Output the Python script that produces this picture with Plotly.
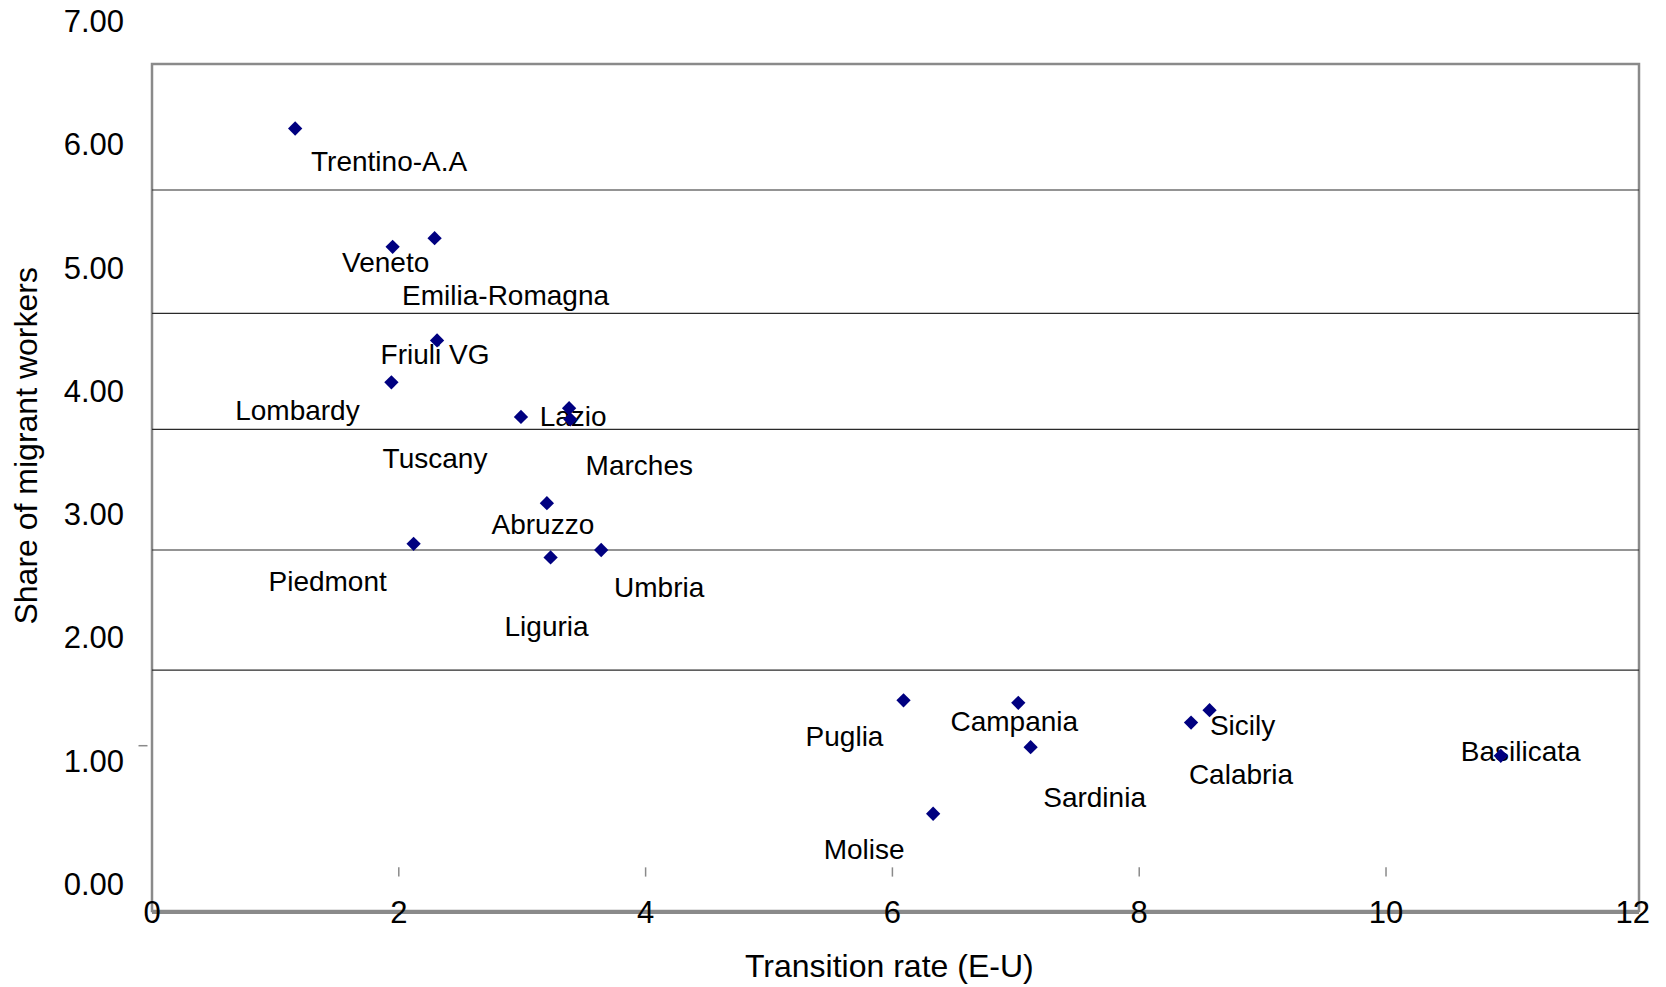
import plotly.graph_objects as go

# ---- data ----
regions = ["Trentino-A.A", "Veneto", "Emilia-Romagna", "Friuli VG", "Lombardy",
           "Tuscany", "Lazio", "Marches", "Abruzzo", "Piedmont", "Liguria", "Umbria",
           "Puglia", "Campania", "Sardinia", "Molise", "Calabria", "Sicily", "Basilicata"]
transition_rate = [1.16, 1.95, 2.29, 2.31, 1.94,
                   2.99, 3.38, 3.39, 3.20, 2.12, 3.23, 3.64,
                   6.09, 7.02, 7.12, 6.33, 8.42, 8.57, 10.93]
migrant_share = [6.13, 5.17, 5.24, 4.41, 4.07,
                 3.79, 3.86, 3.77, 3.09, 2.76, 2.65, 2.71,
                 1.49, 1.47, 1.11, 0.57, 1.31, 1.41, 1.04]
y_ticks = [0, 1, 2, 3, 4, 5, 6, 7]
x_ticks = [0, 2, 4, 6, 8, 10, 12]
grid_levels = [5.631, 4.630, 3.689, 2.710, 1.736]

# ---- label offsets in pixels (right, down) ----
label_dx = [94, -7, 71, -2, -94, -86, 4, 69, -4, -86, -4, 58, -59, -4, 64, -69, 50, 33, 20]
label_dy = [36, 18, 60, 17, 31, 44, 11, 49, 24, 40, 72, 40, 39, 21, 53, 38, 54, 18, -2]

# ---- geometry (page pixels; the page body has an 8px default margin) ----
OFF = 8
W, H = 1666 - OFF, 987 - OFF
plot_left, plot_right, plot_bottom = 151.5, 1639, 911      # page px
y0_px, px_unit_y = 884, 123.25                              # page px of y=0, px per unit
m_l = plot_left - OFF
m_r = (1666 - OFF) - (plot_right - OFF)
m_t = 0
m_b = H - (plot_bottom - OFF)
plot_w = W - m_l - m_r
plot_h = H - m_t - m_b
x_range = [0, 12.05]
y_range = [(y0_px - plot_bottom) / px_unit_y, (y0_px - OFF) / px_unit_y]
frame_top = (y0_px - 64) / px_unit_y
px_per_x = plot_w / (x_range[1] - x_range[0])
px_per_y = plot_h / (y_range[1] - y_range[0])


def paper_x(page_px):
    return (page_px - plot_left) / plot_w


def paper_y(page_px):
    return (plot_bottom - page_px) / plot_h


FONT = "Liberation Sans, Arial, sans-serif"

label_x = [x + dx / px_per_x for x, dx in zip(transition_rate, label_dx)]
label_y = [y - dy / px_per_y for y, dy in zip(migrant_share, label_dy)]

fig = go.Figure()
fig.add_trace(go.Scatter(
    x=label_x, y=label_y, mode="text", text=regions,
    textfont=dict(family=FONT, size=28, color="black"),
    textposition="middle center", hoverinfo="skip", showlegend=False,
    cliponaxis=False))
fig.add_trace(go.Scatter(
    x=transition_rate, y=migrant_share, mode="markers",
    marker=dict(symbol="diamond", size=11, color="#000080", line=dict(width=0)),
    showlegend=False, cliponaxis=False))

shapes = []
# plot frame
frame_top_paper = (frame_top - y_range[0]) / (y_range[1] - y_range[0])
shapes.append(dict(type="rect", xref="paper", yref="paper", x0=0, x1=1, y0=0,
                   y1=frame_top_paper, line=dict(color="#8a8a8a", width=2.5),
                   layer="below"))
# horizontal grid lines
for g in grid_levels:
    shapes.append(dict(type="line", xref="paper", yref="y", x0=0, x1=1, y0=g, y1=g,
                       line=dict(color="#2a2a2a", width=1.2), layer="below"))
# small x tick marks
for t in x_ticks[1:-1]:
    shapes.append(dict(type="line", xref="x", yref="y", x0=t, x1=t, y0=0.06, y1=0.135,
                       line=dict(color="#8a8a8a", width=1.5), layer="below"))
# small y tick mark near 1.00
shapes.append(dict(type="line", xref="paper", yref="y", x0=paper_x(138), x1=paper_x(147),
                   y0=1.122, y1=1.122, line=dict(color="#8a8a8a", width=1.5)))

fig.update_layout(
    width=W, height=H,
    margin=dict(l=m_l, r=m_r, t=m_t, b=m_b, pad=0, autoexpand=False),
    paper_bgcolor="white", plot_bgcolor="white",
    font=dict(family=FONT, color="black"),
    shapes=shapes,
    xaxis=dict(range=x_range, tickvals=x_ticks, ticktext=[str(t) for t in x_ticks],
               showgrid=False, zeroline=False, showline=True, linecolor="#8a8a8a",
               linewidth=2.5, ticks="", tickfont=dict(family=FONT, size=31, color="black"),
               ticklabelstandoff=-28, ticklabeloverflow="allow", automargin=False),
    yaxis=dict(range=y_range, tickvals=y_ticks, ticktext=[f"{v:.2f}" for v in y_ticks],
               showgrid=False, zeroline=False, showline=False, ticks="",
               tickfont=dict(family=FONT, size=31, color="black"),
               ticklabelstandoff=27, ticklabeloverflow="allow", automargin=False),
    annotations=[
        dict(text="Transition rate (E-U)", xref="paper", yref="paper",
             x=paper_x(889.5), y=paper_y(966),
             xanchor="center", yanchor="middle", showarrow=False,
             font=dict(family=FONT, size=32, color="black")),
        dict(text="Share of migrant workers", xref="paper", yref="paper",
             x=paper_x(25), y=paper_y(446), textangle=-90,
             xanchor="center", yanchor="middle", showarrow=False,
             font=dict(family=FONT, size=32, color="black")),
    ],
)

fig.write_html("out.html")
